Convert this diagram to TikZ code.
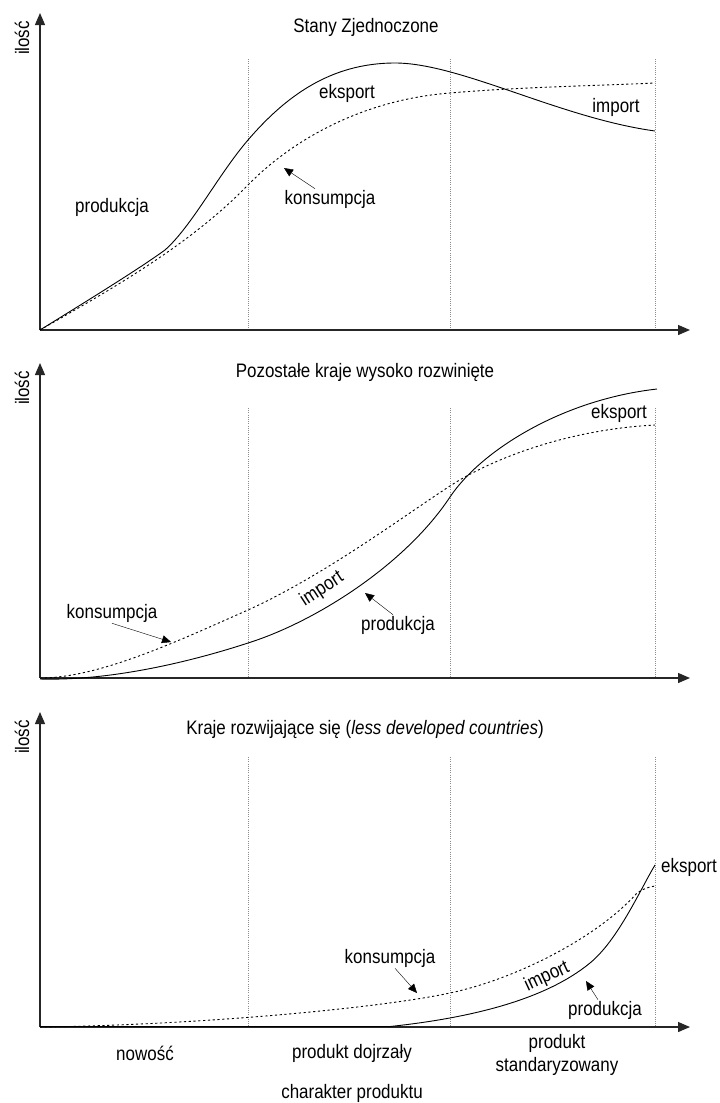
\documentclass[tikz,border=0pt]{standalone}
\usepackage{fontspec}
\setmainfont{Liberation Sans}[FakeStretch=0.87]
\usetikzlibrary{arrows.meta}
\tikzset{
	axis/.style={line width=1.3pt, color=black!85, -{Triangle[length=12pt, width=10pt]}},
	phase/.style={very thin, color=black!45, dotted},
	prod/.style={line width=0.9pt, color=black},
	cons/.style={line width=0.9pt, color=black, dash pattern=on 2.2pt off 2.6pt},
	ptr/.style={thin, color=black, -{Triangle[length=9pt, width=8pt]}},
	lbl/.style={inner sep=1pt, font=\fontsize{19.5}{23}\selectfont},
}
\begin{document}
\begin{tikzpicture}[x=1pt, y=-1pt]
	\useasboundingbox (0,0) rectangle (720,1103);
	% Axes and phase borders
	\foreach \ybot/\ytop/\ydot/\n in {330/13/59/1, 678/363/408/2, 1027/712/757/3} {
		\foreach \x in {248, 450, 655} {
			\draw [phase] (\x,\ydot) -- (\x,\ybot);
		}
		\draw [axis] (40,\ybot) -- (690,\ybot);
		\draw [axis] (40,\ybot) -- (40,\ytop);
		\node [lbl, rotate=90] (qty\n) at (22,\ytop+25) {ilość};
	}
	% Stany Zjednoczone
	\node [lbl] (title1) at (366,27) {Stany Zjednoczone};
	\draw [prod] (40,330) .. controls (100,293) and (140,268) .. (165,250)
		.. controls (192,226) and (218,175) .. (248,140)
		.. controls (285,97) and (330,63) .. (395,63)
		.. controls (460,63) and (560,118) .. (655,131);
	\draw [cons] (40,330) .. controls (110,290) and (190,245) .. (248,185)
		.. controls (290,142) and (360,100) .. (450,93)
		.. controls (520,87) and (590,86) .. (655,83);
	\node [lbl] (prod1) at (112,207) {produkcja};
	\node [lbl] (exp1) at (347,93) {eksport};
	\node [lbl] (kons1) at (330,199) {konsumpcja};
	\node [lbl] (imp1) at (616,107) {import};
	\coordinate (tip1) at (284,168);
	\draw [ptr] ([xshift=-15pt]kons1.north) -- (tip1);
	% Pozostale kraje wysoko rozwiniete
	\node [lbl] (title2) at (365,372) {Pozostałe kraje wysoko rozwinięte};
	\draw [prod] (40,679) .. controls (110,681) and (190,662) .. (248,643)
		.. controls (315,622) and (405,565) .. (450,497)
		.. controls (480,452) and (560,400) .. (657,389);
	\draw [cons] (40,678) .. controls (100,678) and (180,640) .. (248,610)
		.. controls (325,575) and (405,515) .. (450,486)
		.. controls (485,463) and (560,430) .. (655,425);
	\node [lbl] (kons2) at (112,613) {konsumpcja};
	\node [lbl, rotate=33] (imp2) at (322,589) {import};
	\node [lbl] (prod2) at (398,625) {produkcja};
	\node [lbl] (exp2) at (619,413) {eksport};
	\coordinate (tip2) at (171,642);
	\coordinate (tip3) at (365,593);
	\draw [ptr] (kons2.south) -- (tip2);
	\draw [ptr] ([xshift=-5pt]prod2.north) -- (tip3);
	% Kraje rozwijajace sie
	\node [lbl] (title3) at (365,729) {Kraje rozwijające się (\textit{less developed countries})};
	\draw [prod] (40,1026.5) -- (390,1026.5)
		.. controls (470,1018) and (545,1000) .. (590,963)
		.. controls (618,940) and (640,890) .. (655,865);
	\draw [cons] (40,1027) .. controls (200,1025) and (380,1008) .. (450,993)
		.. controls (520,978) and (600,935) .. (637,893)
		.. controls (643,889) and (648,887) .. (655,886);
	\node [lbl] (kons3) at (390,958) {konsumpcja};
	\node [lbl, rotate=25] (imp3) at (547,977) {import};
	\node [lbl] (prod3) at (605,1010) {produkcja};
	\node [lbl, anchor=west] (exp3) at (660,867) {eksport};
	\coordinate (tip4) at (417,993);
	\coordinate (tip5) at (586,981);
	\draw [ptr] ([xshift=5pt]kons3.south) -- (tip4);
	\draw [ptr] ([xshift=-7pt]prod3.north) -- (tip5);
	% Phases
	\node [lbl] (new) at (145,1053) {nowość};
	\node [lbl] (mature) at (352,1053) {produkt dojrzały};
	\node [lbl, align=center] (std) at (557,1055) {produkt\\standaryzowany};
	\node [lbl] (kind) at (352,1093) {charakter produktu};
\end{tikzpicture}
\end{document}
